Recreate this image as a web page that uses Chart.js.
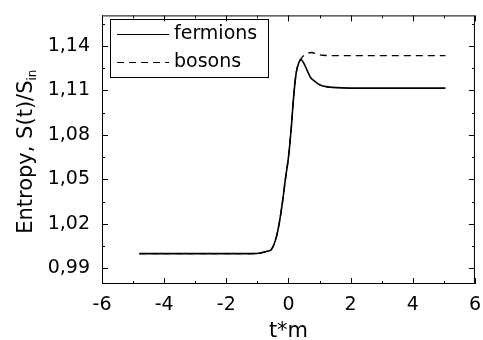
<!DOCTYPE html>
<html>
<head>
<meta charset="utf-8">
<script src="https://cdn.jsdelivr.net/npm/chart.js@4.4.1/dist/chart.umd.min.js"></script>
<style>
  html, body { margin: 0; padding: 0; background: #fff; }
  canvas { display: block; }
</style>
</head>
<body>
<canvas id="chart" width="483" height="340"></canvas>
<script>
// values
const fermionT = [-4.8, -1.2, -0.9, -0.7, -0.55, -0.4, -0.29, -0.18, -0.1, 0, 0.09, 0.17, 0.25, 0.33, 0.41, 0.5, 0.6, 0.7, 0.83, 1.0, 1.2, 1.4, 2.0, 5.05];
const fermionS = [1.0, 1.0, 1.0004, 1.0015, 1.0028, 1.0104, 1.0214, 1.0367, 1.05, 1.065, 1.0848, 1.1066, 1.122, 1.1285, 1.1306, 1.128, 1.1235, 1.119, 1.1164, 1.1138, 1.1125, 1.112, 1.1115, 1.1115];
const bosonT = [-4.8, -1.2, -0.9, -0.7, -0.55, -0.4, -0.29, -0.18, -0.1, 0, 0.09, 0.17, 0.25, 0.33, 0.41, 0.5, 0.6, 0.75, 0.9, 1.1, 1.5, 5.05];
const bosonS = [1.0, 1.0, 1.0004, 1.0015, 1.0028, 1.0104, 1.0214, 1.0367, 1.05, 1.065, 1.0848, 1.1066, 1.122, 1.1285, 1.1315, 1.1335, 1.1348, 1.1355, 1.1345, 1.1336, 1.1334, 1.1334];
const xTicks = [-6, -4, -2, 0, 2, 4, 6];
const xMinor = [-5, -3, -1, 1, 3, 5];
const yTicks = [0.99, 1.02, 1.05, 1.08, 1.11, 1.14];
const yMinor = [1.005, 1.035, 1.065, 1.095, 1.125, 1.155];
const seriesNames = ["fermions", "bosons"];

const FONT = "'DejaVu Sans', sans-serif";
const toPoints = (xs, ys) => xs.map((x, i) => ({ x, y: ys[i] }));

// frame, inward ticks on all four sides, axis titles and the boxed legend
const framePlugin = {
  id: "frame",
  afterDraw(chart) {
    const { ctx, chartArea: a, scales } = chart;
    const xs = scales.x, ys = scales.y;
    ctx.save();
    ctx.strokeStyle = "#000";
    ctx.lineWidth = 1;
    ctx.strokeRect(a.left + 0.5, a.top + 0.5, a.right - a.left - 1, a.bottom - a.top - 1);

    ctx.beginPath();
    const tickX = (v, len) => {
      const p = Math.round(xs.getPixelForValue(v)) + 0.5;
      ctx.moveTo(p, a.bottom); ctx.lineTo(p, a.bottom - len);
      ctx.moveTo(p, a.top); ctx.lineTo(p, a.top + len);
    };
    const tickY = (v, len) => {
      const p = Math.round(ys.getPixelForValue(v)) + 0.5;
      ctx.moveTo(a.left, p); ctx.lineTo(a.left + len, p);
      ctx.moveTo(a.right, p); ctx.lineTo(a.right - len, p);
    };
    xTicks.forEach((v) => tickX(v, 6));
    xMinor.forEach((v) => tickX(v, 3));
    yTicks.forEach((v) => tickY(v, 6));
    yMinor.forEach((v) => tickY(v, 3));
    ctx.stroke();

    // axis titles
    ctx.fillStyle = "#000";
    ctx.font = "21px " + FONT;
    ctx.textAlign = "center";
    ctx.textBaseline = "alphabetic";
    ctx.fillText("t*m", (a.left + a.right) / 2, 337);

    ctx.save();
    const main = "Entropy, S(t)/S";
    const sub = "in";
    const wMain = ctx.measureText(main).width;
    ctx.font = "12px " + FONT;
    const wSub = ctx.measureText(sub).width;
    ctx.translate(32, (a.top + a.bottom) / 2 + 2);
    ctx.rotate(-Math.PI / 2);
    const start = -(wMain + wSub) / 2;
    ctx.textAlign = "left";
    ctx.font = "21px " + FONT;
    ctx.fillText(main, start, 0);
    ctx.font = "12px " + FONT;
    ctx.fillText(sub, start + wMain, 4);
    ctx.restore();

    // legend
    ctx.strokeRect(110.5, 19.5, 158, 58);
    ctx.font = "19px " + FONT;
    ctx.textAlign = "left";
    ctx.textBaseline = "middle";
    chart.data.datasets.forEach((ds, i) => {
      const y = 34 + i * 28 + 0.5;
      ctx.save();
      ctx.lineWidth = 1.2;
      ctx.setLineDash(ds.borderDash || []);
      ctx.beginPath();
      ctx.moveTo(117, y);
      ctx.lineTo(169, y);
      ctx.stroke();
      ctx.restore();
      ctx.fillText(seriesNames[i], 174, y);
    });
    ctx.restore();
  },
};

new Chart(document.getElementById("chart"), {
  type: "line",
  data: {
    datasets: [
      {
        label: seriesNames[0],
        data: toPoints(fermionT, fermionS),
        borderColor: "#000",
        borderWidth: 1.6,
        pointRadius: 0,
        cubicInterpolationMode: "monotone",
      },
      {
        label: seriesNames[1],
        data: toPoints(bosonT, bosonS),
        borderColor: "#000",
        borderWidth: 1.4,
        borderDash: [7, 5],
        pointRadius: 0,
        cubicInterpolationMode: "monotone",
      },
    ],
  },
  options: {
    responsive: false,
    animation: false,
    events: [],
    layout: { padding: { top: 8, right: 7, left: 0, bottom: 0 } },
    plugins: { legend: { display: false }, tooltip: { enabled: false } },
    scales: {
      x: {
        type: "linear",
        min: -6,
        max: 6,
        border: { display: false },
        grid: { display: false },
        afterBuildTicks: (s) => { s.ticks = xTicks.map((value) => ({ value })); },
        afterFit: (s) => { s.height = 56; },
        ticks: { color: "#000", font: { family: FONT, size: 19 }, padding: 2, maxRotation: 0 },
      },
      y: {
        type: "linear",
        min: 0.9795,
        max: 1.1605,
        border: { display: false },
        grid: { display: false },
        afterBuildTicks: (s) => { s.ticks = yTicks.map((value) => ({ value })); },
        afterFit: (s) => { s.width = 102; },
        ticks: {
          color: "#000",
          font: { family: FONT, size: 19 },
          padding: 4,
          callback: (v) => v.toFixed(2).replace(".", ","),
        },
      },
    },
  },
  plugins: [framePlugin],
});
</script>
</body>
</html>
